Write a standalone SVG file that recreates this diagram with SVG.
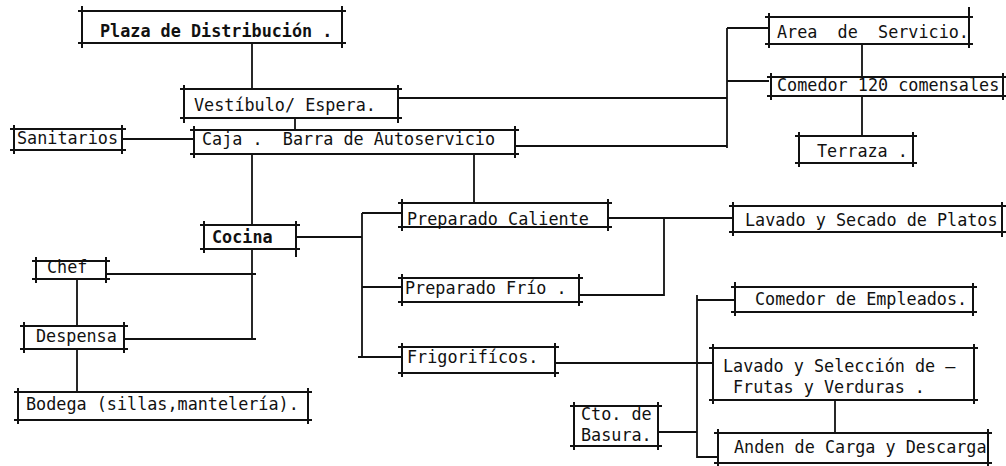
<svg xmlns="http://www.w3.org/2000/svg" width="1006" height="466" viewBox="0 0 1006 466">
<style>
.b{fill:none;stroke:#111;stroke-width:2;stroke-linecap:square}
.c{fill:none;stroke:#111;stroke-width:1.8}
text{font-family:"DejaVu Sans Mono","Liberation Mono",monospace;font-size:16.8px;fill:#111}
.bd{font-weight:bold}
</style>
<rect width="1006" height="466" fill="#fff"/>
<g id="connectors" class="c">
<path d="M252 44V89"/>
<path d="M295 119V130"/>
<path d="M398 98H727"/>
<path d="M727 28V148"/>
<path d="M727 28H769M727 81H769"/>
<path d="M515 146H727"/>
<path d="M862 44V77M862 96V136"/>
<path d="M122 139H194"/>
<path d="M252 154V225"/>
<path d="M474 154V203"/>
<path d="M296 237H362"/>
<path d="M362 213V358"/>
<path d="M362 213H402M362 287H402M358 357H402"/>
<path d="M608 218H733"/>
<path d="M664 218V295H579"/>
<path d="M252 249V340"/>
<path d="M106 274H256M124 339H256"/>
<path d="M77 279V326M77 349V392"/>
<path d="M697 295V457H718"/>
<path d="M697 300H735"/>
<path d="M555 363H713"/>
<path d="M658 432H697"/>
<path d="M835 400V433"/>
</g>
<g id="plaza"><path class="b" d="M79 11H345M79 43H345M82 7V47M342 7V47"/><text class="bd" x="100" y="37">Plaza de Distribución .</text></g>
<g id="vestibulo"><path class="b" d="M181 89H401M181 118H401M184 86V122M398 86V122"/><text x="194" y="111">Vestíbulo/ Espera.</text></g>
<g id="area"><path class="b" d="M766 17H972M766 44H972M769 14V47M969 8V47"/><text x="777" y="38" xml:space="preserve">Area  de  Servicio.</text></g>
<g id="comedor"><path class="b" d="M768 77H1006M768 96H1006M771 74V99M1003 74V99"/><text x="777" y="91">Comedor 120 comensales</text></g>
<g id="terraza"><path class="b" d="M796 136H916M796 163H916M799 133V166M913 133V166"/><text x="817" y="157">Terraza .</text></g>
<g id="sanitarios"><path class="b" d="M11 129H125M11 150H125M14 126V153M122 126V153"/><text x="17" y="144">Sanitarios</text></g>
<g id="caja"><path class="b" d="M191 130H518M191 154H518M194 127V157M515 127V157"/><text x="202" y="145" xml:space="preserve">Caja .  Barra de Autoservicio</text></g>
<g id="cocina"><path class="b" d="M201 225H299M201 249H299M204 222V252M296 222V256"/><text class="bd" x="212" y="243">Cocina</text></g>
<g id="caliente"><path class="b" d="M399 203H611M399 227H611M402 200V230M608 200V230"/><text x="407" y="225">Preparado Caliente</text></g>
<g id="platos"><path class="b" d="M730 206H1006M730 232H1006M733 203V235M1002 203V236"/><text x="745" y="226">Lavado y Secado de Platos</text></g>
<g id="frio"><path class="b" d="M399 278H582M399 302H582M402 275V305M579 275V305"/><text x="405" y="294">Preparado Frío .</text></g>
<g id="frigorificos"><path class="b" d="M399 347H558M399 373H558M402 344V376M555 344V376"/><text x="407" y="363">Frigorifícos.</text></g>
<g id="chef"><path class="b" d="M33 261H109M33 279H109M36 258V282M106 258V282"/><text x="47" y="273">Chef</text></g>
<g id="despensa"><path class="b" d="M21 326H127M21 349H127M24 323V352M124 323V352"/><text x="36" y="342">Despensa</text></g>
<g id="bodega"><path class="b" d="M15 392H311M15 420H311M18 389V423M308 389V423"/><text x="26" y="410">Bodega (sillas,mantelería).</text></g>
<g id="empleados"><path class="b" d="M732 287H976M732 312H976M735 283V315M973 284V315"/><text x="755" y="305">Comedor de Empleados.</text></g>
<g id="seleccion"><path class="b" d="M710 348H977M710 400H977M713 345V403M974 345V403"/><text x="723" y="372">Lavado y Selección de –</text><text x="733" y="393">Frutas y Verduras .</text></g>
<g id="basura"><path class="b" d="M571 406H661M571 446H661M574 403V449M658 403V449"/><text x="581" y="420">Cto. de</text><text x="581" y="441">Basura.</text></g>
<g id="anden"><path class="b" d="M715 433H991M715 463H991M718 430V466M988 430V466"/><text x="734" y="453">Anden de Carga y Descarga</text></g>
</svg>
